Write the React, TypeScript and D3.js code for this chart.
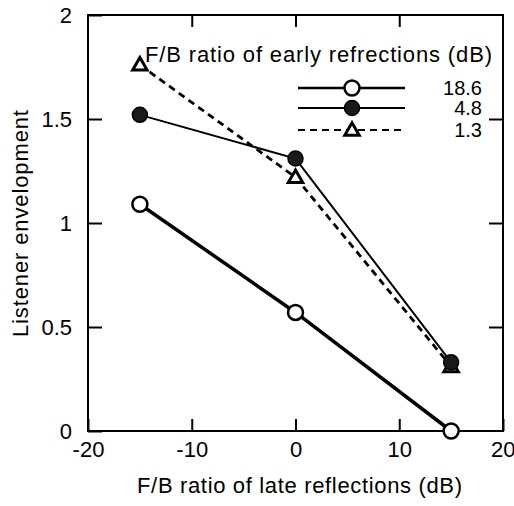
import React, { useEffect, useRef } from 'react'
import * as d3 from 'd3'

// F/B ratio of late reflections (dB)
const lateFB = [-15, 0, 15]

// listener envelopment for each early F/B ratio
const env186 = [1.09, 0.57, 0.0]
const env48 = [1.52, 1.31, 0.33]
const env13 = [1.76, 1.22, 0.31]

const seriesNames = ['18.6', '4.8', '1.3']
const xTicks = [-20, -10, 0, 10, 20]
const yTicks = [0, 0.5, 1, 1.5, 2]

const W = 514
const H = 506
const margin = { left: 88, right: 11, top: 15, bottom: 75 }
const FONT = '"Liberation Sans", Arial, Helvetica, sans-serif'

export default function App() {
  const ref = useRef<SVGSVGElement>(null)

  useEffect(() => {
    const svg = d3.select(ref.current)
    svg.selectAll('*').remove()

    const x = d3.scaleLinear().domain([-20, 20]).range([margin.left, W - margin.right])
    const y = d3.scaleLinear().domain([0, 2]).range([H - margin.bottom, margin.top])

    const g = svg.append('g').attr('font-family', FONT)

    // axes, ticks point inward
    const bottom = g.append('g')
      .attr('transform', 'translate(0,' + y(0) + ')')
      .call(d3.axisBottom(x).tickValues(xTicks).tickSize(-12).tickPadding(10).tickFormat((d: any) => String(d)))
    const left = g.append('g')
      .attr('transform', 'translate(' + x(-20) + ',0)')
      .call(d3.axisLeft(y).tickValues(yTicks).tickSize(-14).tickPadding(16).tickFormat((d: any) => String(d)))
    const top = g.append('g')
      .attr('transform', 'translate(0,' + y(2) + ')')
      .call(d3.axisTop(x).tickValues([-10, 0, 10]).tickSize(-12).tickFormat(() => ''))
    const right = g.append('g')
      .attr('transform', 'translate(' + x(20) + ',0)')
      .call(d3.axisRight(y).tickValues([0.5, 1, 1.5]).tickSize(-14).tickFormat(() => ''))

    ;[bottom, left, top, right].forEach(a => {
      a.select('.domain').remove()
      a.selectAll('line').attr('stroke', '#000').attr('stroke-width', 2)
      a.selectAll('text').attr('font-size', 22).attr('fill', '#000').attr('font-family', FONT)
    })
    // keep the last x label inside the page
    bottom.selectAll('text').filter((d: any) => d === 20)
      .attr('text-anchor', 'end').attr('x', 12)

    g.append('rect')
      .attr('x', x(-20)).attr('y', y(2))
      .attr('width', x(20) - x(-20)).attr('height', y(0) - y(2))
      .attr('fill', 'none').attr('stroke', '#000').attr('stroke-width', 2)

    const line = d3.line<number>()
      .x((d, i) => x(lateFB[i]))
      .y(d => y(d))

    const styles = [
      { data: env186, width: 3.5, dash: null },
      { data: env48, width: 2, dash: null },
      { data: env13, width: 2.8, dash: '7,5' }
    ]

    styles.forEach(s => {
      g.append('path')
        .datum(s.data)
        .attr('d', line)
        .attr('fill', 'none')
        .attr('stroke', '#000')
        .attr('stroke-width', s.width)
        .attr('stroke-dasharray', s.dash)
    })

    const tri = d3.symbol().type(d3.symbolTriangle).size(90)

    function marker(sel: any, kind: number, cx: number, cy: number) {
      if (kind === 0) {
        sel.append('circle').attr('cx', cx).attr('cy', cy).attr('r', 7.5)
          .attr('fill', '#fff').attr('stroke', '#000').attr('stroke-width', 2.5)
      } else if (kind === 1) {
        sel.append('circle').attr('cx', cx).attr('cy', cy).attr('r', 7.5)
          .attr('fill', '#1a1a1a').attr('stroke', '#000').attr('stroke-width', 1.5)
      } else {
        sel.append('path').attr('d', tri)
          .attr('transform', 'translate(' + cx + ',' + (cy + 1) + ')')
          .attr('fill', '#fff').attr('stroke', '#000').attr('stroke-width', 3)
      }
    }

    // markers, drawn last series first so open circles stay on top
    ;[2, 1, 0].forEach(k => {
      styles[k].data.forEach((v, i) => marker(g, k, x(lateFB[i]), y(v)))
    })

    // legend
    const lg = g.append('g')
    lg.append('text')
      .attr('x', 145).attr('y', 62)
      .attr('font-size', 22)
      .attr('textLength', 347)
      .text('F/B ratio of early refrections (dB)')

    const rowY = [88, 108, 130]
    seriesNames.forEach((name, k) => {
      lg.append('line')
        .attr('x1', 298).attr('x2', 405)
        .attr('y1', rowY[k]).attr('y2', rowY[k])
        .attr('stroke', '#000')
        .attr('stroke-width', k === 0 ? 2.5 : 2)
        .attr('stroke-dasharray', styles[k].dash)
      marker(lg, k, 352, rowY[k])
      lg.append('text')
        .attr('x', 482).attr('y', rowY[k] + 7)
        .attr('text-anchor', 'end')
        .attr('font-size', 20)
        .text(name)
    })

    // axis titles
    g.append('text')
      .attr('x', 137).attr('y', 493)
      .attr('font-size', 22)
      .attr('textLength', 325)
      .text('F/B ratio of late reflections (dB)')

    g.append('text')
      .attr('transform', 'translate(28,337) rotate(-90)')
      .attr('font-size', 22)
      .attr('textLength', 227)
      .text('Listener envelopment')
  }, [])

  return (
    <svg ref={ref} width={W} height={H}
      style={{ position: 'absolute', left: 0, top: 0, background: '#fff' }} />
  )
}
